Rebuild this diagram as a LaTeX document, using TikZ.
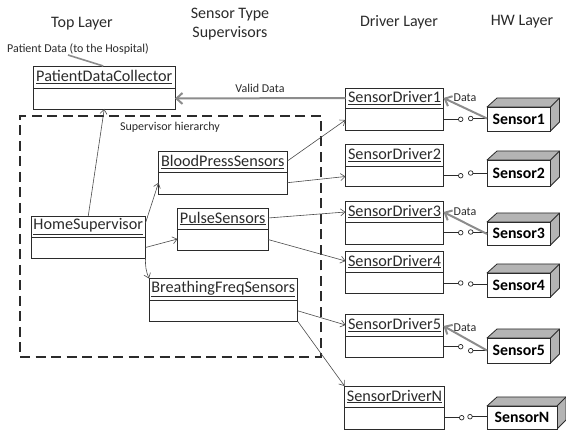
\documentclass[tikz,border=0pt]{standalone}
\usepackage{fontspec}
\setmainfont{Carlito}
\usetikzlibrary{arrows.meta,calc}
\definecolor{ink}{HTML}{2B2B2B}
\definecolor{flow}{HTML}{8C8C8C}
\definecolor{face}{HTML}{B4B4B4}
\tikzset{
  x=1pt,y=-1pt,
  umlbox/.style={draw=ink,line width=0.8pt,fill=white,inner sep=0pt,outer sep=0pt},
  umlname/.style={inner sep=0pt,text=ink,font=\fontsize{16.2}{18}\selectfont},
  hwname/.style={draw=ink,line width=0.9pt,fill=white,inner sep=0pt,outer sep=0pt,text=black,font=\fontsize{15.8}{17}\selectfont\bfseries},
  layertitle/.style={inner sep=0pt,text=ink,align=center,font=\fontsize{16}{19.5}\selectfont},
  smalltext/.style={inner sep=0pt,text=ink,font=\fontsize{12}{13}\selectfont},
  assoc/.style={draw=ink!85,line width=0.6pt,-{Straight Barb[length=4.5pt,width=7pt]}},
  dataflow/.style={draw=flow,line width=2pt,-{Straight Barb[length=6pt,width=11pt]}},
  plainflow/.style={draw=flow,line width=2pt},
  lollipop/.style={circle,draw=ink,line width=0.7pt,fill=white,minimum size=4.6pt,inner sep=0pt,outer sep=0pt},
  wire/.style={draw=ink,line width=0.9pt},
  hierarchy/.style={draw=ink,line width=1.6pt,dash pattern=on 10pt off 5.5pt},
}
% name, x1, y1, x2, y2, divider y, text
\newcommand{\umlclass}[7]{%
  \node[umlbox,minimum width={(#4-#2)*1pt},minimum height={(#5-#3)*1pt}] (#1) at ({(#2+#4)/2},{(#3+#5)/2}) {};
  \draw[ink,line width=0.8pt] (#2,#6) -- (#4,#6);
  \node[umlname] (#1-name) at ({(#2+#4)/2},{(#3+#6)/2}) {\underline{#7}};
}
% name, x1, y1, x2, y2, text
\newcommand{\hwbox}[6]{%
  \fill[face,draw=ink,line width=0.8pt,line join=round] (#2,#3) -- ({#2+10},{#3-9}) -- ({#4+9},{#3-9}) -- ({#4+9},{#5-9}) -- (#4,#5) -- (#4,#3) -- cycle;
  \draw[ink,line width=0.8pt] (#4,#3) -- ({#4+9},{#3-9});
  \node[hwname,minimum width={(#4-#2)*1pt},minimum height={(#5-#3)*1pt}] (#1) at ({(#2+#4)/2},{(#3+#5)/2}) {#6};
}
\begin{document}
\begin{tikzpicture}
\useasboundingbox[fill=white] (0,0) rectangle (566,433);
% titles
\node[layertitle] (t1) at (82,24) {Top Layer};
\node[layertitle] (t2) at (230,24) {Sensor Type\\Supervisors};
\node[layertitle] (t3) at (399,22) {Driver Layer};
\node[layertitle] (t4) at (522,22) {HW Layer};
% hierarchy frame
\node[hierarchy,inner sep=0pt,outer sep=0pt,minimum width=301pt,minimum height=241pt] (frame) at (170.5,236.5) {};
\node[smalltext] (framelabel) at (170,127) {Supervisor hierarchy};
% classes
\umlclass{pdc}{33.5}{66}{175}{109}{88}{PatientDataCollector}
\umlclass{hs}{31}{216}{145.5}{258}{237}{HomeSupervisor}
\umlclass{bp}{158.5}{151.5}{287}{194}{172}{BloodPressSensors}
\umlclass{ps}{177.5}{208}{268}{250}{229}{PulseSensors}
\umlclass{bf}{149}{278.5}{297.5}{321}{300}{BreathingFreqSensors}
\umlclass{d1}{345.5}{88}{443.5}{130}{108.5}{SensorDriver1}
\umlclass{d2}{345.5}{144}{443.5}{186}{166}{SensorDriver2}
\umlclass{d3}{345.5}{201}{443.5}{244}{222}{SensorDriver3}
\umlclass{d4}{345.5}{251}{443.5}{293}{272}{SensorDriver4}
\umlclass{d5}{345.5}{314}{443.5}{357}{336}{SensorDriver5}
\umlclass{dn}{344.5}{386}{444.5}{429}{407}{SensorDriverN}
% sensors
\hwbox{s1}{487}{107}{550.5}{131}{Sensor1}
\hwbox{s2}{487}{160}{550.5}{186}{Sensor2}
\hwbox{s3}{487}{222}{550.5}{245}{Sensor3}
\hwbox{s4}{487}{273}{550.5}{297}{Sensor4}
\hwbox{s5}{487}{338}{550.5}{363}{Sensor5}
\hwbox{sn}{487}{406}{557}{429}{SensorN}
% lollipops
\node[lollipop] (l1) at (460.7,119.3) {}; \node[lollipop] (r1) at (470.7,118.5) {};
\node[lollipop] (l2) at (460.7,175.7) {}; \node[lollipop] (r2) at (470.7,173) {};
\node[lollipop] (l3) at (460.7,232.7) {}; \node[lollipop] (r3) at (470.7,232) {};
\node[lollipop] (l4) at (460.7,283) {}; \node[lollipop] (r4) at (470.7,284) {};
\node[lollipop] (l5) at (460.7,346.7) {}; \node[lollipop] (r5) at (470.7,350.7) {};
\node[lollipop] (ln) at (461.7,417.7) {}; \node[lollipop] (rn) at (470,416.7) {};
\foreach \i in {1,2,3,4,5,n}{
  \draw[wire] (l\i.west) -- (l\i.west -| d\i.east);
  \draw[wire] (r\i.east) -- (r\i.east -| s\i.west);
}
% associations
\draw[assoc] (hs.north) -- (pdc.south);
\draw[assoc] ([yshift=14pt]hs.east) -- ([yshift=-10pt]bp.west);
\draw[assoc] ([yshift=-10.5pt]hs.east) -- ([yshift=-10pt]ps.west);
\draw[assoc] (hs.south east) to[bend right=12] (bf.north west);
\draw[assoc] ([yshift=11.5pt]bp.east) -- ([yshift=-11pt]d1.west);
\draw[assoc] ([yshift=-10pt]bp.east) -- ([yshift=-11.5pt]d2.west);
\draw[assoc] ([yshift=11pt]ps.east) -- ([yshift=10.5pt]d3.west);
\draw[assoc] ([yshift=-10.5pt]ps.east) -- ([yshift=11pt]d4.west);
\draw[assoc] ([yshift=-11pt]bf.east) -- ([yshift=10.5pt]d5.west);
\draw[assoc] (bf.south east) -- (dn.north west);
% data flows
\draw[dataflow] (d1.west |- 0,98) -- (pdc.east |- 0,98.5);
\node[smalltext] (validlabel) at (260,88) {Valid Data};
\draw[plainflow,line width=1.6pt] ([xshift=-1pt]pdc.north) -- (68,55);
\node[smalltext] (patientlabel) at (78,49) {Patient Data (to the Hospital)};
\draw[dataflow] ([yshift=0.5pt]s1.west) -- ([yshift=11pt]d1.east);
\node[smalltext] (data1) at (465,98) {Data};
\draw[dataflow] ([yshift=-0.5pt]s3.west) -- ([yshift=10.5pt]d3.east);
\node[smalltext] (data3) at (465,212) {Data};
\draw[dataflow] (s5.west) -- ([yshift=9.5pt]d5.east);
\node[smalltext] (data5) at (465,328) {Data};
\end{tikzpicture}
\end{document}
